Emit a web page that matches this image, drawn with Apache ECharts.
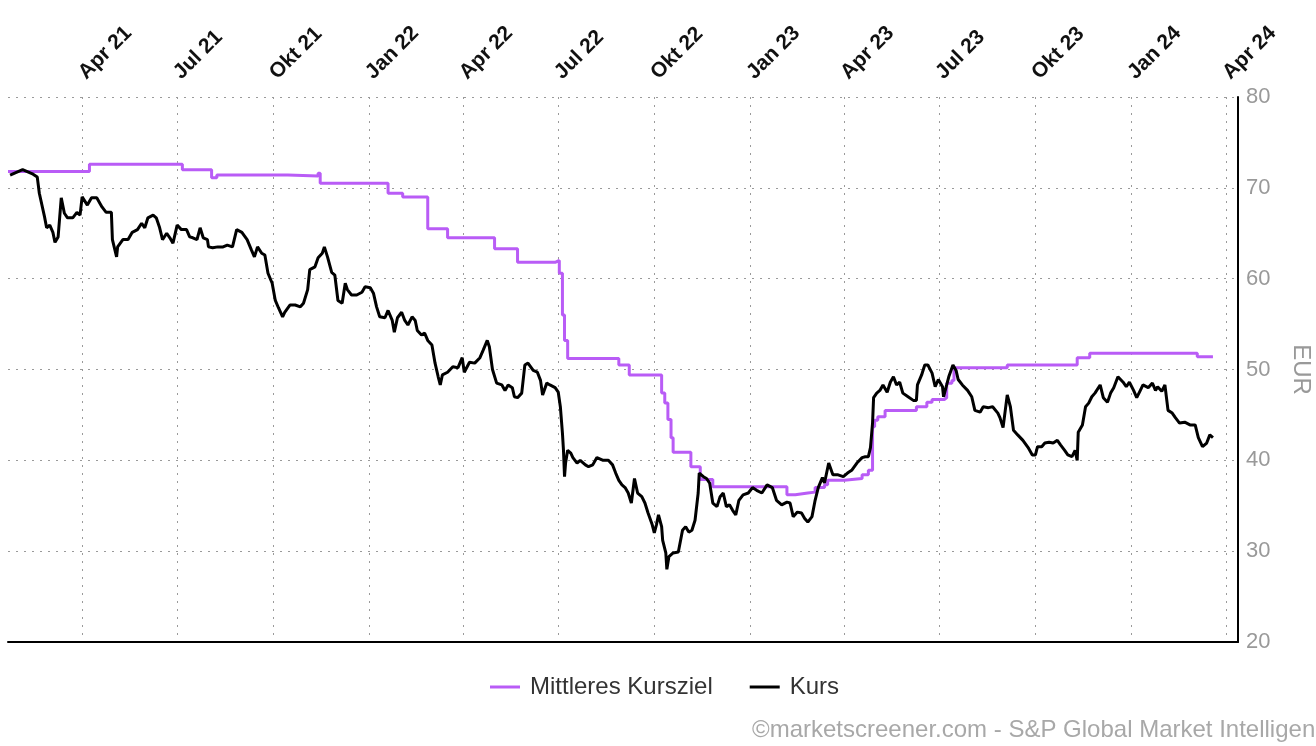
<!DOCTYPE html>
<html>
<head>
<meta charset="utf-8">
<script src="https://cdn.jsdelivr.net/npm/echarts@6/dist/echarts.min.js"></script>
<style>
html,body{margin:0;padding:0;background:#fff;}
#chart{width:1316px;height:746px;}
</style>
</head>
<body>
<div id="chart"></div>
<script>
const kursDates = ['2021-01-22','2021-02-03','2021-02-13','2021-02-17','2021-02-19','2021-02-24','2021-02-26','2021-03-01','2021-03-04','2021-03-06','2021-03-09','2021-03-12','2021-03-15','2021-03-18','2021-03-23','2021-03-27','2021-03-30','2021-04-01','2021-04-06','2021-04-10','2021-04-15','2021-04-20','2021-04-24','2021-04-29','2021-04-30','2021-05-04','2021-05-05','2021-05-10','2021-05-15','2021-05-19','2021-05-24','2021-05-28','2021-05-31','2021-06-03','2021-06-08','2021-06-11','2021-06-14','2021-06-17','2021-06-21','2021-06-24','2021-06-27','2021-07-01','2021-07-05','2021-07-10','2021-07-13','2021-07-16','2021-07-20','2021-07-23','2021-07-26','2021-07-30','2021-07-31','2021-08-04','2021-08-09','2021-08-14','2021-08-18','2021-08-23','2021-08-27','2021-09-01','2021-09-06','2021-09-10','2021-09-13','2021-09-16','2021-09-20','2021-09-23','2021-09-26','2021-09-30','2021-10-03','2021-10-06','2021-10-10','2021-10-12','2021-10-17','2021-10-22','2021-10-27','2021-10-30','2021-11-03','2021-11-05','2021-11-10','2021-11-13','2021-11-17','2021-11-19','2021-11-22','2021-11-26','2021-11-29','2021-12-02','2021-12-06','2021-12-09','2021-12-11','2021-12-15','2021-12-20','2021-12-25','2021-12-28','2022-01-02','2022-01-05','2022-01-08','2022-01-11','2022-01-16','2022-01-19','2022-01-23','2022-01-25','2022-01-28','2022-02-01','2022-02-04','2022-02-07','2022-02-11','2022-02-14','2022-02-16','2022-02-20','2022-02-23','2022-02-26','2022-03-02','2022-03-05','2022-03-08','2022-03-10','2022-03-12','2022-03-17','2022-03-22','2022-03-27','2022-03-31','2022-04-02','2022-04-07','2022-04-12','2022-04-17','2022-04-20','2022-04-24','2022-04-26','2022-04-29','2022-05-03','2022-05-08','2022-05-11','2022-05-14','2022-05-18','2022-05-20','2022-05-23','2022-05-27','2022-05-30','2022-06-02','2022-06-07','2022-06-11','2022-06-14','2022-06-16','2022-06-20','2022-06-23','2022-06-28','2022-07-01','2022-07-03','2022-07-05','2022-07-06','2022-07-07','2022-07-08','2022-07-10','2022-07-13','2022-07-15','2022-07-19','2022-07-22','2022-07-27','2022-07-30','2022-08-03','2022-08-07','2022-08-13','2022-08-18','2022-08-22','2022-08-25','2022-08-28','2022-08-31','2022-09-03','2022-09-06','2022-09-09','2022-09-12','2022-09-15','2022-09-19','2022-09-22','2022-09-25','2022-09-29','2022-10-01','2022-10-03','2022-10-05','2022-10-08','2022-10-09','2022-10-12','2022-10-13','2022-10-15','2022-10-19','2022-10-24','2022-10-28','2022-10-31','2022-11-03','2022-11-06','2022-11-09','2022-11-12','2022-11-13','2022-11-17','2022-11-20','2022-11-23','2022-11-26','2022-11-30','2022-12-03','2022-12-06','2022-12-09','2022-12-12','2022-12-15','2022-12-18','2022-12-21','2022-12-25','2022-12-30','2023-01-03','2023-01-07','2023-01-12','2023-01-17','2023-01-22','2023-01-26','2023-01-31','2023-02-05','2023-02-08','2023-02-11','2023-02-15','2023-02-19','2023-02-22','2023-02-25','2023-03-01','2023-03-04','2023-03-07','2023-03-11','2023-03-13','2023-03-17','2023-03-21','2023-03-26','2023-03-31','2023-04-04','2023-04-08','2023-04-13','2023-04-18','2023-04-21','2023-04-24','2023-04-26','2023-04-28','2023-04-29','2023-05-02','2023-05-05','2023-05-08','2023-05-12','2023-05-15','2023-05-18','2023-05-21','2023-05-24','2023-05-27','2023-06-01','2023-06-06','2023-06-09','2023-06-10','2023-06-14','2023-06-17','2023-06-20','2023-06-24','2023-06-27','2023-06-30','2023-07-04','2023-07-05','2023-07-08','2023-07-10','2023-07-14','2023-07-17','2023-07-19','2023-07-23','2023-07-28','2023-08-01','2023-08-04','2023-08-09','2023-08-12','2023-08-17','2023-08-21','2023-08-26','2023-08-28','2023-08-31','2023-09-04','2023-09-07','2023-09-10','2023-09-14','2023-09-19','2023-09-24','2023-09-28','2023-10-01','2023-10-03','2023-10-07','2023-10-10','2023-10-14','2023-10-18','2023-10-22','2023-10-25','2023-10-29','2023-11-01','2023-11-05','2023-11-08','2023-11-10','2023-11-11','2023-11-15','2023-11-18','2023-11-21','2023-11-24','2023-11-27','2023-12-02','2023-12-05','2023-12-09','2023-12-12','2023-12-15','2023-12-19','2023-12-24','2023-12-27','2023-12-30','2024-01-03','2024-01-06','2024-01-09','2024-01-12','2024-01-17','2024-01-21','2024-01-24','2024-01-26','2024-01-30','2024-02-02','2024-02-05','2024-02-09','2024-02-12','2024-02-16','2024-02-21','2024-02-26','2024-03-02','2024-03-05','2024-03-09','2024-03-13','2024-03-16','2024-03-19'];
const kursValues = [71.4,72.0,71.5,71.2,69.4,66.8,65.6,65.9,65.1,64.0,64.6,68.9,67.2,66.7,66.7,67.3,67.0,69.0,68.1,68.9,68.9,67.9,67.3,67.3,64.3,62.4,63.5,64.3,64.3,65.1,65.4,66.1,65.6,66.7,67.0,66.7,65.7,64.3,65.0,64.5,63.9,65.9,65.4,65.4,64.6,64.5,64.3,65.6,64.5,64.3,63.5,63.4,63.5,63.5,63.7,63.5,65.4,65.1,64.3,63.2,62.4,63.5,62.8,62.6,60.6,59.5,57.6,56.8,55.8,56.3,57.1,57.1,56.9,57.3,58.8,61.0,61.3,62.3,62.8,63.5,62.4,60.7,60.4,57.6,57.3,59.5,58.8,58.2,58.2,58.5,59.1,59.0,58.4,56.9,55.8,55.7,56.5,55.4,54.1,55.7,56.3,55.4,54.9,55.8,55.4,54.3,53.8,54.0,53.2,52.7,50.7,49.2,48.3,49.4,49.7,50.3,50.2,51.3,49.7,50.8,50.7,51.3,52.1,53.2,52.5,50.0,48.5,48.3,47.7,48.3,48.0,47.0,46.9,47.4,50.5,50.7,49.9,49.7,48.8,47.2,48.5,48.3,48.0,47.5,45.9,43.0,41.1,38.2,39.7,41.1,40.8,40.3,39.7,40.0,39.5,39.3,39.5,40.3,40.0,40.0,39.5,38.6,37.8,37.3,37.0,36.4,35.3,38.0,36.4,36.0,35.3,34.2,32.9,32.0,32.9,34.0,32.7,31.2,29.8,28.0,29.4,29.8,29.9,32.3,32.7,32.1,32.3,33.4,36.4,38.6,38.2,38.0,37.5,35.3,34.9,36.0,36.4,34.9,35.1,34.5,34.0,35.6,36.2,36.4,37.0,36.7,36.4,37.3,37.0,35.6,35.1,35.4,35.3,33.8,34.3,34.2,33.6,33.2,33.8,35.6,37.0,38.1,37.5,39.7,38.4,38.4,38.2,38.6,38.9,39.7,40.3,40.4,40.4,41.4,44.1,46.9,47.4,47.7,48.3,47.5,48.6,49.2,48.3,48.6,47.4,47.0,46.6,46.6,48.3,49.4,50.5,50.5,49.6,48.1,48.9,48.1,47.0,48.3,49.2,50.5,49.9,48.9,48.3,47.7,47.0,45.5,45.3,45.9,45.8,45.9,45.2,44.7,43.6,47.2,45.9,43.3,42.8,42.2,41.4,40.6,40.6,41.5,41.5,41.9,42.0,41.9,42.2,41.7,41.1,40.6,40.4,41.1,40.0,43.1,43.9,45.9,46.3,47.0,47.4,48.3,46.9,46.4,47.4,48.0,49.2,48.6,48.1,48.6,47.7,46.9,47.6,48.3,48.0,48.5,47.7,48.1,47.6,48.3,45.5,45.2,44.7,44.1,44.2,43.9,43.9,42.5,41.5,41.9,42.8,42.5];

const zielDates = ['2021-01-20','2021-04-08','2021-07-06','2021-08-03','2021-08-08','2021-10-15','2021-11-13','2021-11-15','2022-01-19','2022-02-02','2022-02-26','2022-03-17','2022-05-01','2022-05-23','2022-06-28','2022-07-02','2022-07-05','2022-07-07','2022-07-10','2022-08-28','2022-09-07','2022-10-08','2022-10-11','2022-10-14','2022-10-17','2022-10-19','2022-11-05','2022-11-14','2022-11-26','2023-02-05','2023-02-13','2023-02-25','2023-03-04','2023-03-13','2023-03-16','2023-04-01','2023-04-18','2023-04-24','2023-04-28','2023-04-30','2023-05-03','2023-05-10','2023-06-09','2023-06-19','2023-06-24','2023-07-06','2023-07-08','2023-07-13','2023-07-15','2023-09-04','2023-11-10','2023-11-22','2024-03-04','2024-03-19'];
const zielValues = [71.8,72.6,72.0,71.1,71.4,71.3,71.6,70.5,69.4,69.0,65.5,64.5,63.3,61.8,62.0,60.6,56.0,53.2,51.2,50.5,49.4,47.4,46.3,44.5,42.5,40.9,39.3,37.9,37.1,36.2,36.4,36.5,37.0,37.3,37.8,38.0,38.4,38.9,43.7,44.4,44.8,45.5,45.9,46.4,46.7,46.9,48.5,48.8,50.2,50.5,51.3,51.8,51.4,51.4];

const monthLabels = {0: 'Jan', 3: 'Apr', 6: 'Jul', 9: 'Okt'};
const seriesNames = ['Mittleres Kursziel', 'Kurs'];
const axisMin = '2021-01-20';
const axisMax = '2024-04-12';
const yTicks = {min: 20, max: 80, step: 10};
const copyrightText = '\u00A9marketscreener.com - S&P Global Market Intelligence';

const FONT = 'Arial, "Liberation Sans", Helvetica, sans-serif';
const DAY = 86400000;

const chart = echarts.init(document.getElementById('chart'), null, {renderer: 'canvas'});
const zielData = zielDates.map((d, i) => [d, zielValues[i]]);
const kursData = kursDates.map((d, i) => [d, kursValues[i]]);
const gridLine = {color: '#9a9a9a', width: 1, type: [2, 6]};

chart.setOption({
  animation: false,
  backgroundColor: '#fff',
  grid: {left: 8, right: 78, top: 97, bottom: 104, containLabel: false, outerBoundsMode: 'none'},
  legend: {
    top: 670, left: 485, itemGap: 37, itemWidth: 30, itemHeight: 3,
    textStyle: {fontFamily: FONT, fontSize: 24, color: '#333', padding: [0, 0, 0, 5]},
    data: [{name: seriesNames[0], icon: 'rect'}, {name: seriesNames[1], icon: 'rect'}]
  },
  graphic: [{
    type: 'text', left: 752, top: 718,
    style: {text: copyrightText, font: '24px ' + FONT, fill: '#a8a8a8'}
  }],
  xAxis: [{
    type: 'time', position: 'top', min: axisMin, max: axisMax,
    splitNumber: 13, minInterval: 85 * DAY, maxInterval: 100 * DAY,
    axisLine: {show: false}, axisTick: {show: false},
    axisLabel: {
      rotate: -45, margin: 21, color: '#111', fontSize: 21, fontWeight: 'bold', fontFamily: FONT,
      showMinLabel: false, showMaxLabel: false, hideOverlap: false,
      formatter: function (v) {
        const dt = new Date(v);
        const m = monthLabels[dt.getMonth()];
        if (!m) return '';
        return m + ' ' + String(dt.getFullYear()).slice(2);
      }
    },
    splitLine: {show: true, showMinLine: false, showMaxLine: false, lineStyle: gridLine}
  }, {
    type: 'time', position: 'bottom', min: axisMin, max: axisMax,
    axisLine: {show: true, lineStyle: {color: '#000', width: 2}},
    axisTick: {show: false}, axisLabel: {show: false}, splitLine: {show: false}
  }],
  yAxis: {
    type: 'value', position: 'right', min: yTicks.min, max: yTicks.max, interval: yTicks.step,
    name: 'EUR', nameLocation: 'middle', nameRotate: -90, nameGap: 51,
    nameTextStyle: {color: '#999', fontSize: 24, fontFamily: FONT},
    axisLine: {show: true, lineStyle: {color: '#000', width: 2}},
    axisTick: {show: false},
    axisLabel: {color: '#999', fontSize: 22, fontFamily: FONT, margin: 8},
    splitLine: {show: true, showMinLine: false, lineStyle: gridLine}
  },
  series: [{
    name: seriesNames[0], type: 'line', xAxisIndex: 0, step: 'end', showSymbol: false, symbol: 'none',
    data: zielData, itemStyle: {color: '#b95cf6'}, lineStyle: {color: '#b95cf6', width: 3}
  }, {
    name: seriesNames[1], type: 'line', xAxisIndex: 0, showSymbol: false, symbol: 'none',
    data: kursData, itemStyle: {color: '#000'}, lineStyle: {color: '#000', width: 3}
  }]
});
</script>
</body>
</html>
